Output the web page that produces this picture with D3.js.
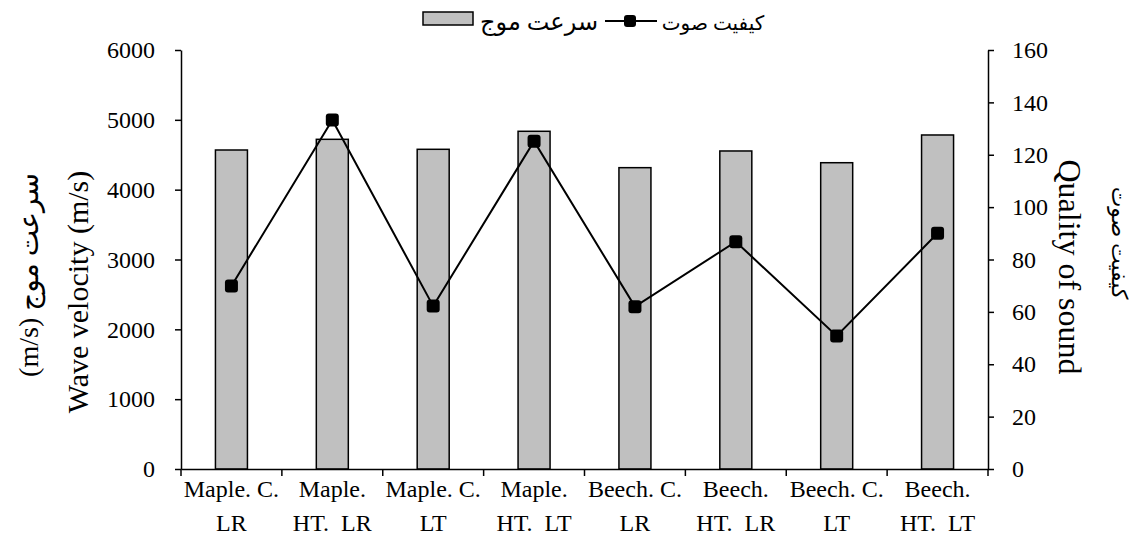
<!DOCTYPE html>
<html>
<head>
<meta charset="utf-8">
<script src="https://cdn.jsdelivr.net/npm/d3@7"></script>
<style>
  body { margin: 0; background: #fff; }
  svg text { font-family: "Liberation Serif", "DejaVu Sans", serif; fill: #000; }
</style>
</head>
<body>
<svg id="canvas"></svg>
<script>
let categories = [
  ["Maple. C.", "LR"], ["Maple.", "HT.  LR"], ["Maple. C.", "LT"], ["Maple.", "HT.  LT"],
  ["Beech. C.", "LR"], ["Beech.", "HT.  LR"], ["Beech. C.", "LT"], ["Beech.", "HT.  LT"]
];
let velocity = [4568, 4721, 4578, 4836, 4315, 4554, 4386, 4783];
let quality = [69.9, 133.3, 62.2, 125.2, 62.0, 86.8, 50.8, 90.0];
let leftTicks = [0, 1000, 2000, 3000, 4000, 5000, 6000];
let rightTicks = [0, 20, 40, 60, 80, 100, 120, 140, 160];

let width = 1141;
let height = 538;
let plotLeft = 181, plotRight = 988, plotTop = 50, plotBottom = 469;

let canvas = d3.select('#canvas')
canvas.attr('width', width).attr('height', height)

let idx = categories.map((c, i) => i)

let xScale = d3.scaleBand()
  .domain(idx)
  .range([plotLeft, plotRight])

let yLeft = d3.scaleLinear().domain([0, 6000]).range([plotBottom, plotTop])
let yRight = d3.scaleLinear().domain([0, 160]).range([plotBottom, plotTop])

// bars
canvas.selectAll('rect.bar')
  .data(velocity)
  .enter()
  .append('rect')
  .attr('class', 'bar')
  .attr('x', (d, i) => xScale(i) + xScale.bandwidth() / 2 - 16)
  .attr('width', 32)
  .attr('y', d => yLeft(d))
  .attr('height', d => yLeft(0) - yLeft(d))
  .attr('fill', '#c0c0c0')
  .attr('stroke', '#000')
  .attr('stroke-width', 1.5)

// axes
let xAxis = d3.axisBottom(xScale).tickValues([]).tickSizeOuter(0)
let gx = canvas.append('g')
  .attr('transform', 'translate(0,' + plotBottom + ')')
  .call(xAxis)
gx.select('.domain').attr('stroke-width', 1.5)
let bounds = d3.range(categories.length + 1).map(i => plotLeft + i * xScale.bandwidth())
gx.selectAll('line.tk')
  .data(bounds)
  .enter()
  .append('line')
  .attr('x1', d => d).attr('x2', d => d)
  .attr('y1', 0).attr('y2', 7)
  .attr('stroke', '#000').attr('stroke-width', 1.5)

let yAxisL = d3.axisLeft(yLeft).tickValues(leftTicks).tickFormat(d3.format('d'))
  .tickSize(6).tickSizeOuter(0).tickPadding(20)
let gl = canvas.append('g')
  .attr('transform', 'translate(' + plotLeft + ',0)')
  .call(yAxisL)
gl.selectAll('text').style('font-size', '24px')
gl.selectAll('line, .domain').attr('stroke-width', 1.5)

let yAxisR = d3.axisRight(yRight).tickValues(rightTicks).tickFormat(d3.format('d'))
  .tickSize(6).tickSizeOuter(0).tickPadding(18)
let gr = canvas.append('g')
  .attr('transform', 'translate(' + plotRight + ',0)')
  .call(yAxisR)
gr.selectAll('text').style('font-size', '24px')
gr.selectAll('line, .domain').attr('stroke-width', 1.5)

// x labels
let xl = canvas.selectAll('text.xl')
  .data(categories)
  .enter()
  .append('text')
  .attr('class', 'xl')
  .attr('text-anchor', 'middle')
  .style('font-size', '24px')
  .style('white-space', 'pre')
xl.append('tspan')
  .attr('x', (d, i) => xScale(i) + xScale.bandwidth() / 2)
  .attr('y', 497)
  .text(d => d[0])
xl.append('tspan')
  .attr('x', (d, i) => xScale(i) + xScale.bandwidth() / 2)
  .attr('y', 531)
  .text(d => d[1])

// line series
let line = d3.line()
  .x((d, i) => xScale(i) + xScale.bandwidth() / 2)
  .y(d => yRight(d))

canvas.append('path')
  .datum(quality)
  .attr('d', line)
  .attr('fill', 'none')
  .attr('stroke', '#000')
  .attr('stroke-width', 2)

canvas.selectAll('rect.mk')
  .data(quality)
  .enter()
  .append('rect')
  .attr('class', 'mk')
  .attr('x', (d, i) => xScale(i) + xScale.bandwidth() / 2 - 6.5)
  .attr('y', d => yRight(d) - 6.5)
  .attr('width', 13).attr('height', 13)
  .attr('rx', 3)
  .attr('fill', '#000')

// axis titles
canvas.append('text')
  .attr('transform', 'translate(88,292) rotate(-90)')
  .attr('text-anchor', 'middle')
  .style('font-size', '30px')
  .text('Wave velocity (m/s)')

canvas.append('text')
  .attr('transform', 'translate(38,275) rotate(-90)')
  .attr('text-anchor', 'middle')
  .style('font-size', '28px')
  .text('(m/s) سرعت موج')

canvas.append('text')
  .attr('transform', 'translate(1059,267) rotate(90)')
  .attr('text-anchor', 'middle')
  .style('font-size', '32px')
  .text('Quality of sound')

canvas.append('text')
  .attr('transform', 'translate(1112,243) rotate(90)')
  .attr('text-anchor', 'middle')
  .style('font-size', '22px')
  .text('کیفیت صوت')

// legend
let lg = canvas.append('g')
lg.append('rect')
  .attr('x', 423).attr('y', 12).attr('width', 50).attr('height', 13)
  .attr('fill', '#c0c0c0').attr('stroke', '#000').attr('stroke-width', 1.5)
lg.append('text')
  .attr('x', 539).attr('y', 30)
  .attr('text-anchor', 'middle')
  .style('font-size', '24px')
  .text('سرعت موج')
lg.append('line')
  .attr('x1', 605).attr('x2', 657).attr('y1', 21).attr('y2', 21)
  .attr('stroke', '#000').attr('stroke-width', 2)
lg.append('rect')
  .attr('x', 624).attr('y', 15).attr('width', 12).attr('height', 12).attr('rx', 3)
  .attr('fill', '#000')
lg.append('text')
  .attr('x', 713).attr('y', 30)
  .attr('text-anchor', 'middle')
  .style('font-size', '20px')
  .text('کیفیت صوت')
</script>
</body>
</html>
